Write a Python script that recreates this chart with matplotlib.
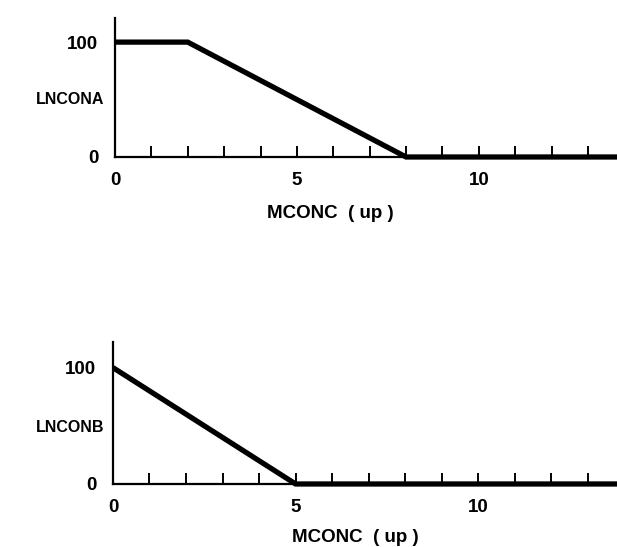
import matplotlib
matplotlib.use("Agg")
import matplotlib.pyplot as plt

# Data
mconc_a = [0, 2, 8, 14]
lncona = [100, 100, 0, 0]
mconc_b = [0, 5, 14]
lnconb = [100, 0, 0]
x_ticks = list(range(0, 14))
x_labels = {0: "0", 5: "5", 10: "10"}
y_ticks = [0, 100]
y_labels = ["0", "100"]

plt.rcParams['font.family'] = ['Liberation Sans', 'DejaVu Sans']
plt.rcParams['font.weight'] = 'bold'

W, H = 617, 547
fig = plt.figure(figsize=(W / 100, H / 100), dpi=100)
fig.patch.set_facecolor('white')

def make_axes(left, bottom, width, height, xs, ys, ylabel, ylab_y, xlab_x, xlab_y, ytop):
    ax = fig.add_axes([left, bottom, width, height])
    ax.plot(xs, ys, color='black', lw=3.8, solid_capstyle='butt', solid_joinstyle='miter')
    ax.set_xlim(0, 13.8)
    ax.set_ylim(-4, ytop)
    for s in ['top', 'right']:
        ax.spines[s].set_visible(False)
    ax.spines['bottom'].set_position(('data', 0))
    ax.spines['left'].set_bounds(0, ytop)
    ax.spines['left'].set_linewidth(1.6)
    ax.spines['bottom'].set_linewidth(1.6)
    ax.set_xticks(x_ticks)
    ax.set_xticklabels([x_labels.get(t, "") for t in x_ticks])
    ax.tick_params(axis='x', direction='in', length=8, width=1.4, pad=11,
                   labelsize=13.5)
    ax.set_yticks(y_ticks)
    ax.set_yticklabels(y_labels)
    ax.tick_params(axis='y', length=0, pad=12, labelsize=13.5)
    fig.text(70 / W, 1 - ylab_y / H, ylabel, ha='center', va='center',
             fontsize=11.5, fontweight='bold')
    fig.text(xlab_x / W, 1 - xlab_y / H, "MCONC  ( up )", ha='center', va='center',
             fontsize=13.5, fontweight='bold')
    return ax

make_axes(0.1864, 0.7046, 0.8136, 0.2625, mconc_a, lncona, "LNCONA", 100, 330, 213, 121)
make_axes(0.1831, 0.1067, 0.8169, 0.268, mconc_b, lnconb, "LNCONB", 428, 355, 538, 122)

fig.savefig("out.png", dpi=100, facecolor='white')
